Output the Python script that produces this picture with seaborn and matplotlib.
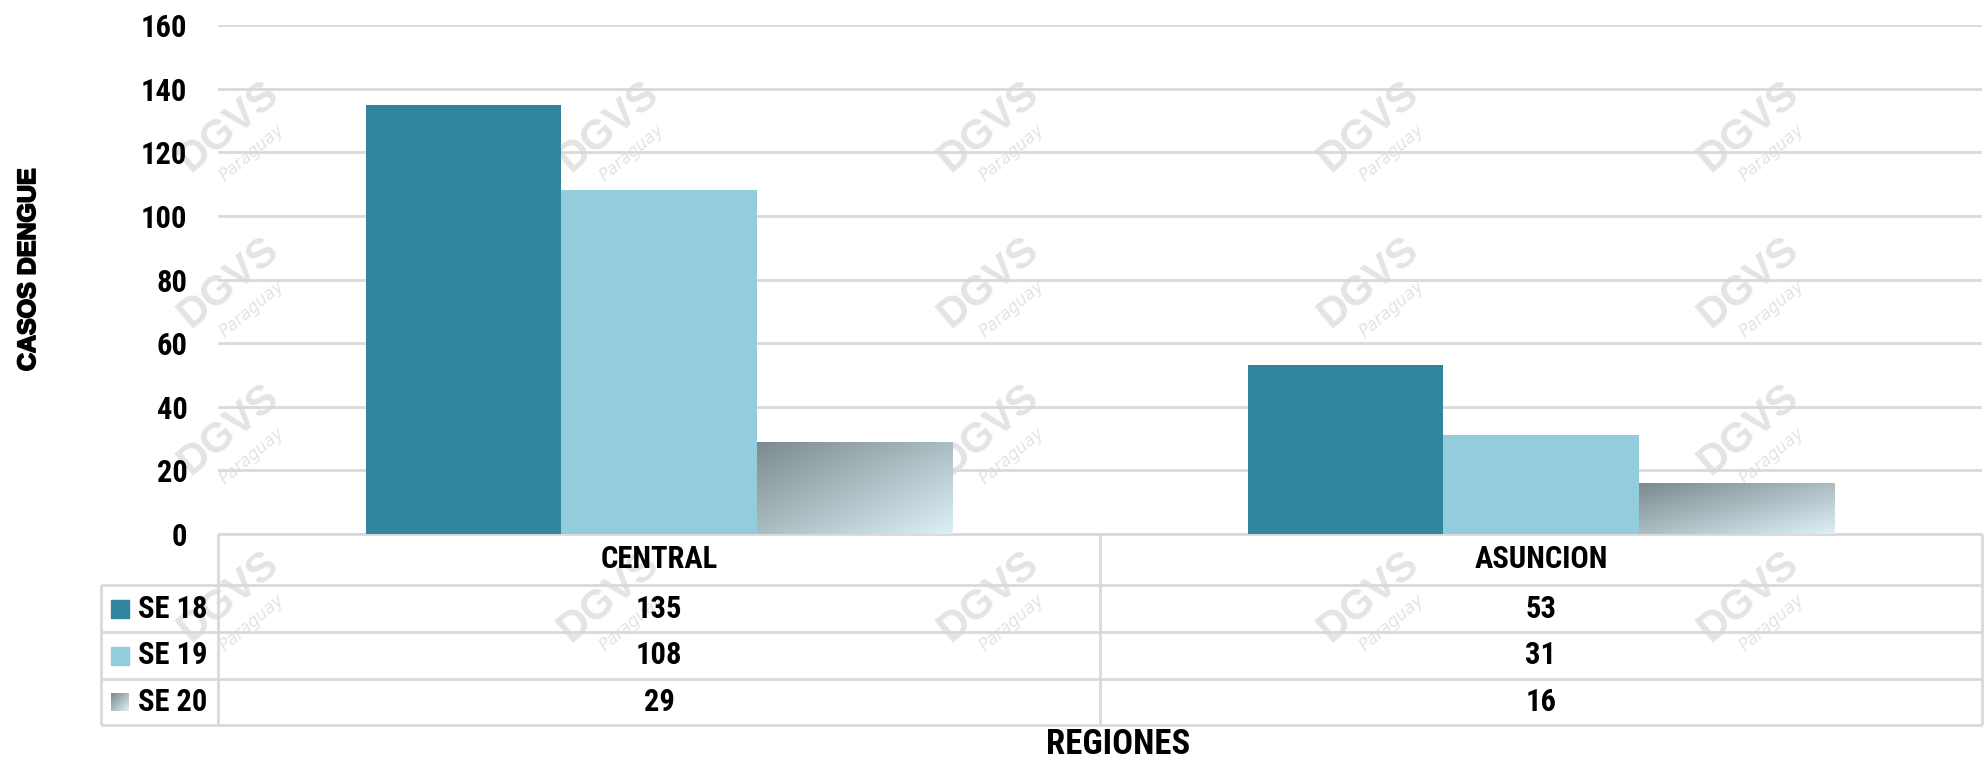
import numpy as np
import pandas as pd
import matplotlib
matplotlib.use("Agg")
import matplotlib.pyplot as plt
import matplotlib.patheffects as pe
import seaborn as sns
from matplotlib import font_manager
from matplotlib.colors import LinearSegmentedColormap
from matplotlib.patches import Rectangle

# --- data ---
regiones = ["CENTRAL", "ASUNCION"]
semanas = ["SE 18", "SE 19", "SE 20"]
se18 = [135, 53]
se19 = [108, 31]
se20 = [29, 16]
yticks = [0, 20, 40, 60, 80, 100, 120, 140, 160]

palette = {"SE 18": "#31859c", "SE 19": "#93cddd", "SE 20": "#b0bec2"}
grad = LinearSegmentedColormap.from_list("se20", ["#7b8a8e", "#dcf0f6"])

df = pd.DataFrame({
    "region": regiones * 3,
    "semana": [s for s in semanas for _ in regiones],
    "casos": se18 + se19 + se20,
})
valores = {"SE 18": se18, "SE 19": se19, "SE 20": se20}


def _w(f):
    w = f.weight
    if isinstance(w, str):
        return {"bold": 700, "heavy": 800, "black": 900, "semibold": 600, "demibold": 600}.get(w, 400)
    return w


def _narrow(f):
    return ("Narrow" in f.name or "Condensed" in f.name
            or f.stretch in ("condensed", "semi-condensed", "extra-condensed")
            or (isinstance(f.stretch, int) and f.stretch < 500))


fonts = [f for f in font_manager.fontManager.ttflist if f.style == "normal"]
order = lambda f: ("Liberation" not in f.name, "Roboto" not in f.name, f.name)

# narrow bold font for table / ticks, else fake the bold
bold_narrow = sorted([f for f in fonts if _narrow(f) and _w(f) >= 700], key=order)
reg_narrow = sorted([f for f in fonts if _narrow(f)], key=order)
if bold_narrow:
    narrow_font, stretch, fx = bold_narrow[0].name, bold_narrow[0].stretch, []
elif reg_narrow:
    narrow_font, stretch = reg_narrow[0].name, reg_narrow[0].stretch
    fx = [pe.withStroke(linewidth=1.6, foreground="black")]
else:
    narrow_font, stretch, fx = "Liberation Sans", "normal", []

# wide bold font for the y label
wide_bold = [n for n in ["Liberation Sans", "Arimo", "Roboto", "Lato", "DejaVu Sans"]
             if any(f.name == n and _w(f) >= 700 and not _narrow(f) for f in fonts)]
ylab_font = wide_bold[0] if wide_bold else "DejaVu Sans"

sns.set_theme(style="white")
plt.rcParams["font.family"] = [narrow_font, "DejaVu Sans"]
plt.rcParams["font.stretch"] = stretch
plt.rcParams["font.weight"] = "bold"
plt.rcParams["text.color"] = "black"
plt.rcParams["ytick.color"] = "black"

W, H = 1985, 764
fig = plt.figure(figsize=(W / 100, H / 100), dpi=100)

# pixel overlay for table, labels and watermark
bg = fig.add_axes([0, 0, 1, 1])
bg.axis("off")

left, right, top, base = 218, 1982, 25, 534
ax = fig.add_axes([left / W, 1 - base / H, (right - left) / W, (base - top) / H])
ax.set_facecolor("none")

# faint watermark
for cy in [127, 283, 430, 597]:
    for cx in [228, 608, 988, 1368, 1748]:
        bg.text(cx, cy, "DGVS", rotation=40, fontsize=30, color="#e4e4e4",
                ha="center", va="center", family=ylab_font, stretch="normal", zorder=0)
        bg.text(cx + 24, cy + 26, "Paraguay", rotation=40, fontsize=12, color="#e4e4e4",
                ha="center", va="center", style="italic", family="DejaVu Sans",
                stretch="normal", fontweight="normal", zorder=0)

sns.barplot(data=df, x="region", y="casos", hue="semana", order=regiones,
            hue_order=semanas, palette=palette, width=0.665, gap=0,
            saturation=1, linewidth=0, legend=False, ax=ax, zorder=3)

# SE 20 bars with diagonal gradient
gy, gx = np.mgrid[0:1:200j, 0:1:200j]
for bar in ax.containers[2]:
    x0, y0 = bar.get_x(), bar.get_y()
    w, h = bar.get_width(), bar.get_height()
    bar.set_facecolor("none")
    img = ax.imshow((gx + gy) / 2, cmap=grad, extent=[x0, x0 + w, y0, y0 + h],
                    origin="upper", aspect="auto", zorder=3, interpolation="bilinear")
    img.set_clip_path(bar)

ax.set_xlim(-0.5, 1.5)
ax.set_ylim(0, 160)
ax.set_yticks(yticks)
ax.set_yticklabels([str(t) for t in yticks], fontsize=22, fontweight="bold")
for t in ax.get_yticklabels():
    t.set_path_effects(fx)
ax.tick_params(axis="y", length=0, pad=22)
ax.set_xticks([])
ax.set_xlabel("")
ax.set_ylabel("")
ax.grid(axis="y", color="#d9d9d9", linewidth=2, zorder=0)
ax.set_axisbelow(True)
for s in ax.spines.values():
    s.set_visible(False)

# y label
bg.text(28, 270, "CASOS DENGUE", rotation=90, ha="center", va="center",
        fontsize=18, fontweight="bold", family=ylab_font, stretch="normal",
        path_effects=[pe.withStroke(linewidth=1.3, foreground="black")])

# data table
lc = "#d9d9d9"
tab_l = 101
rows_y = [534, 585, 632, 679, 725]
mid = (left + right) / 2
bg.hlines(rows_y[0], left, right, color=lc, lw=2, zorder=2)
bg.hlines(rows_y[1:], tab_l, right, color=lc, lw=2, zorder=2)
bg.vlines([left, mid, right], rows_y[0], rows_y[-1], color=lc, lw=2, zorder=2)
bg.vlines(tab_l, rows_y[1], rows_y[-1], color=lc, lw=2, zorder=2)

col_x = [(left + mid) / 2, (mid + right) / 2]
hy = (rows_y[0] + rows_y[1]) / 2
for cx, reg in zip(col_x, regiones):
    bg.text(cx, hy, reg, ha="center", va="center", fontsize=22, fontweight="bold",
            path_effects=fx)

for i, sem in enumerate(semanas):
    ry = (rows_y[i + 1] + rows_y[i + 2]) / 2
    if sem == "SE 20":
        bg.imshow((gx + gy) / 2, cmap=grad, extent=[111, 129, ry + 9, ry - 9],
                  origin="upper", aspect="auto", zorder=3)
    else:
        bg.add_patch(Rectangle((111, ry - 9), 18, 18, color=palette[sem], zorder=3))
    bg.text(138, ry, sem, ha="left", va="center", fontsize=22, fontweight="bold",
            path_effects=fx)
    for cx, v in zip(col_x, valores[sem]):
        bg.text(cx, ry, str(v), ha="center", va="center", fontsize=22, fontweight="bold",
                path_effects=fx)

bg.text(1118, 745, "REGIONES", ha="center", va="center", fontsize=25, fontweight="bold",
        path_effects=fx)

bg.set_xlim(0, W)
bg.set_ylim(H, 0)

fig.savefig("out.png", dpi=100)
